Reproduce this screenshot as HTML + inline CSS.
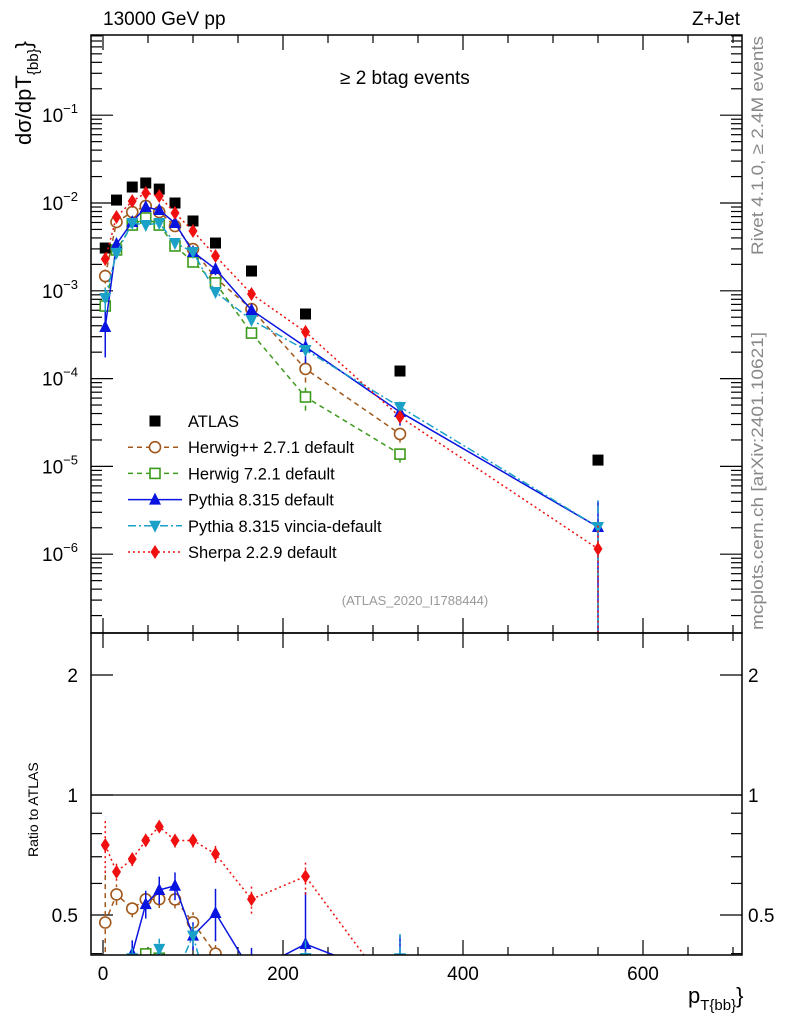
<!DOCTYPE html>
<html><head><meta charset="utf-8"><style>
html,body{margin:0;padding:0;background:#fff;overflow:hidden;width:786px;height:1024px;}
svg{display:block;font-family:"Liberation Sans",sans-serif;}
</style></head><body>
<svg id="c" width="786" height="1024" viewBox="0 0 786 1024" xmlns="http://www.w3.org/2000/svg">
<defs>
<clipPath id="cm"><rect x="91" y="35" width="651" height="598"/></clipPath>
<clipPath id="cr"><rect x="91" y="633" width="651" height="322"/></clipPath>
</defs>
<g id="axes"></g>
<g id="mainMarks" clip-path="url(#cm)"></g>
<g id="ratioMarks" clip-path="url(#cr)"></g>
<rect x="91" y="35" width="651" height="598" fill="none" stroke="#000" stroke-width="1.5"/>
<rect x="91" y="633" width="651" height="322" fill="none" stroke="#000" stroke-width="1.5"/>
<text x="103" y="25" font-size="19">13000 GeV pp</text>
<text x="740" y="25" font-size="19" text-anchor="end">Z+Jet</text>
<text x="340" y="84" font-size="19">≥ 2 btag events</text>
<text transform="translate(31,145) rotate(-90)" font-size="22">dσ/dpT<tspan font-size="15" dy="7">{bb}</tspan><tspan dy="-7">}</tspan></text>
<text transform="translate(38,857) rotate(-90)" font-size="14">Ratio to ATLAS</text>
<text transform="translate(763,255) rotate(-90)" font-size="17" fill="#888" textLength="219" lengthAdjust="spacingAndGlyphs">Rivet 4.1.0, ≥ 2.4M events</text>
<text transform="translate(763,630) rotate(-90)" font-size="17" fill="#888" textLength="298" lengthAdjust="spacingAndGlyphs">mcplots.cern.ch [arXiv:2401.10621]</text>
<text x="415" y="605" font-size="13" fill="#999" text-anchor="middle">(ATLAS_2020_I1788444)</text>
<text x="688" y="1003" font-size="22">p<tspan font-size="15" dy="7">T{bb}</tspan><tspan dy="-7">}</tspan></text>
<g id="legend"></g>
</svg>
<script>
const xCenters=[2.5,15,32.5,47.5,62.5,80,100,125,165,225,330,550];
const atlas=[3.07e-3,1.08e-2,1.52e-2,1.69e-2,1.44e-2,1.0e-2,6.24e-3,3.5e-3,1.68e-3,5.44e-4,1.22e-4,1.18e-5];
const herwigpp=[1.47e-3,6.08e-3,7.89e-3,9.25e-3,7.89e-3,5.47e-3,2.99e-3,1.40e-3,6.2e-4,1.29e-4,2.34e-5,null];
const herwig7=[6.71e-4,2.92e-3,5.61e-3,6.75e-3,5.61e-3,3.24e-3,2.13e-3,1.23e-3,3.30e-4,6.17e-5,1.38e-5,null];
const pythia=[3.87e-4,3.41e-3,6.08e-3,9.0e-3,8.32e-3,5.92e-3,2.77e-3,1.77e-3,6.04e-4,2.3e-4,4.17e-5,2.04e-6];
const vincia=[8.28e-4,2.70e-3,5.92e-3,5.61e-3,5.92e-3,3.5e-3,2.77e-3,9.69e-4,4.65e-4,2.12e-4,4.75e-5,2.04e-6];
const sherpa=[2.30e-3,6.93e-3,1.05e-2,1.30e-2,1.20e-2,7.69e-3,4.80e-3,2.49e-3,9.2e-4,3.40e-4,3.66e-5,1.15e-6];
const relErrH=[0.35,0.06,0.05,0.05,0.05,0.05,0.06,0.08,0.1,0.3,0.2,0];
const relErrP=[0.55,0.1,0.08,0.08,0.08,0.08,0.08,0.15,0.15,0.35,0.3,1.0];
const relErrV=[0.3,0.08,0.06,0.06,0.06,0.06,0.06,0.08,0.1,0.12,0.15,1.0];
const relErrS=[0.15,0.05,0.04,0.03,0.03,0.04,0.04,0.05,0.08,0.1,0.15,1.0];
const yTickExps=[-1,-2,-3,-4,-5,-6];
const xTicks=[0,200,400,600];
const ratioTicks=[2,1,0.5];

const NS="http://www.w3.org/2000/svg";
const X=v=>103+0.9*v;
const Y=v=>203-87.8*(Math.log10(v)+2);
const R=r=>795-120*Math.log2(r);
function el(tag,attrs,parent){const e=document.createElementNS(NS,tag);for(const k in attrs)e.setAttribute(k,attrs[k]);parent.appendChild(e);return e;}
const axes=document.getElementById('axes');
const mm=document.getElementById('mainMarks');
const rm=document.getElementById('ratioMarks');
const lg=document.getElementById('legend');

for(let v=0;v<=700;v+=50){
  const major=v%200===0, xp=X(v);
  const L=major?15:8;
  for(const [y0,dir] of [[35,1],[633,-1],[633,1],[955,-1]]){
    const t=el('line',{x1:xp,x2:xp,y1:y0,y2:y0+dir*L,stroke:'#000','stroke-width':1.2},axes);
    
    
  }
}
xTicks.forEach(v=>{
  const t=el('text',{x:X(v),y:980,'font-size':19,'text-anchor':'middle'},axes);
  t.textContent=v;
  
  
});
for(let e=-7;e<=0;e++){
  for(let m=1;m<10;m++){
    const v=m*Math.pow(10,e), yp=Y(v);
    if(yp<35||yp>633)continue;
    const L=m===1?22:11;
    el('line',{x1:91,x2:91+L,y1:yp,y2:yp,stroke:'#000','stroke-width':1.2},axes);
    el('line',{x1:742,x2:742-L,y1:yp,y2:yp,stroke:'#000','stroke-width':1.2},axes);
  }
}
yTickExps.forEach(e=>{
  const t=el('text',{x:78,y:Y(Math.pow(10,e))+7,'font-size':19,'text-anchor':'end'},axes);
  t.innerHTML='10<tspan font-size="13" dy="-9">−'+(-e)+'</tspan>';
  
  
});
[0.4,0.5,0.6,0.7,0.8,0.9,1,2].forEach(r=>{
  const yp=R(r); const major=(r===1||r===2||r===0.5);
  const L=major?22:11;
  el('line',{x1:91,x2:91+L,y1:yp,y2:yp,stroke:'#000','stroke-width':1.2},axes);
  el('line',{x1:742,x2:742-L,y1:yp,y2:yp,stroke:'#000','stroke-width':1.2},axes);
});
ratioTicks.forEach(r=>{
  const t=el('text',{x:78,y:R(r)+7,'font-size':19,'text-anchor':'end'},axes);
  t.textContent=r;
  
  
  const t2=el('text',{x:748,y:R(r)+7,'font-size':19},axes);
  t2.textContent=r;
  
  
});
const one=el('line',{x1:91,x2:742,y1:R(1),y2:R(1),stroke:'#000','stroke-width':1.2},axes);



function marker(kind,cx,cy,color,parent){
  let m;
  if(kind==='sq')m=el('rect',{x:cx-5.5,y:cy-5.5,width:11,height:11,fill:color},parent);
  else if(kind==='osq')m=el('rect',{x:cx-5,y:cy-5,width:10,height:10,fill:'#fff',stroke:color,'stroke-width':1.6},parent);
  else if(kind==='oc')m=el('circle',{cx:cx,cy:cy,r:5.5,fill:'#fff',stroke:color,'stroke-width':1.6},parent);
  else if(kind==='tu')m=el('polygon',{points:`${cx},${cy-7} ${cx-6},${cy+5} ${cx+6},${cy+5}`,fill:color},parent);
  else if(kind==='td')m=el('polygon',{points:`${cx},${cy+7} ${cx-6},${cy-5} ${cx+6},${cy-5}`,fill:color},parent);
  else m=el('polygon',{points:`${cx},${cy-7} ${cx-4.5},${cy} ${cx},${cy+7} ${cx+4.5},${cy}`,fill:color},parent);
  return m;
}
const series=[
 {name:'Herwig++ 2.7.1 default',vals:herwigpp,err:relErrH,color:'#a0581c',dash:'5,4',mk:'oc',id:'herwigpp'},
 {name:'Herwig 7.2.1 default',vals:herwig7,err:relErrH,color:'#3c9a1c',dash:'5,4',mk:'osq',id:'herwig7'},
 {name:'Pythia 8.315 default',vals:pythia,err:relErrP,color:'#0a14e0',dash:'',mk:'tu',id:'pythia'},
 {name:'Pythia 8.315 vincia-default',vals:vincia,err:relErrV,color:'#1ba0c8',dash:'8,3,2,3',mk:'td',id:'vincia'},
 {name:'Sherpa 2.2.9 default',vals:sherpa,err:relErrS,color:'#f01010',dash:'2,3',mk:'dm',id:'sherpa'}
];
atlas.forEach((v,i)=>{
  const m=marker('sq',X(xCenters[i]),Y(v),'#000',mm);
  
  
});
series.forEach(s=>{
  const pts=[],rpts=[];
  s.vals.forEach((v,i)=>{ if(v==null)return; pts.push(X(xCenters[i])+','+Y(v)); rpts.push(X(xCenters[i])+','+R(v/atlas[i])); });
  const l=el('polyline',{points:pts.join(' '),fill:'none',stroke:s.color,'stroke-width':1.5,'stroke-dasharray':s.dash},mm);
  
  
  const rl=el('polyline',{points:rpts.join(' '),fill:'none',stroke:s.color,'stroke-width':1.5,'stroke-dasharray':s.dash},rm);
  
  
  s.vals.forEach((v,i)=>{
    if(v==null)return;
    const xp=X(xCenters[i]), e=s.err[i];
    const lo=Math.max(v*(1-e),1e-9), hi=v*(1+e);
    el('line',{x1:xp,x2:xp,y1:Y(lo),y2:Y(hi),stroke:s.color,'stroke-width':1.5,'stroke-dasharray':s.dash},mm);
    el('line',{x1:xp,x2:xp,y1:R(lo/atlas[i]),y2:R(hi/atlas[i]),stroke:s.color,'stroke-width':1.5,'stroke-dasharray':s.dash},rm);
    const m=marker(s.mk,xp,Y(v),s.color,mm);
    
    
    const rmk=marker(s.mk,xp,R(v/atlas[i]),s.color,rm);
    
    
  });
});
const rows=[{name:'ATLAS',mk:'sq',color:'#000',dash:null}].concat(series);
rows.forEach((s,i)=>{
  const y=421+i*26.2;
  const g=el('g',{},lg);
  
  
  if(s.dash!==null) el('line',{x1:128,x2:182,y1:y,y2:y,stroke:s.color,'stroke-width':1.5,'stroke-dasharray':s.dash},g);
  marker(s.mk,155,y,s.color,g);
  const t=el('text',{x:188,y:y+6,'font-size':16.5},g);
  t.textContent=s.name;
});
</script>
</body></html>
